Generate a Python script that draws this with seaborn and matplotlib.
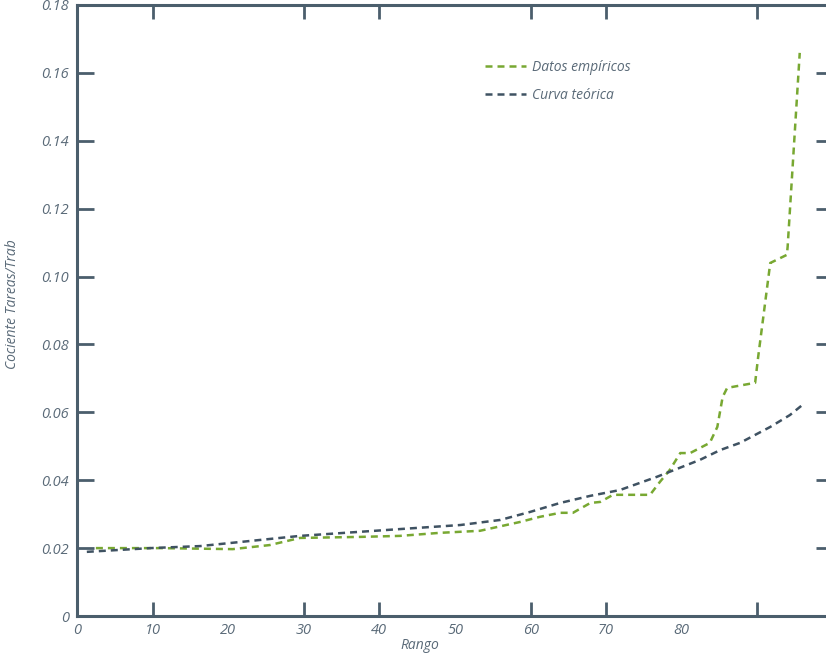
import matplotlib
matplotlib.use("Agg")
import matplotlib.pyplot as plt
import seaborn as sns
import pandas as pd

# ── Data ──────────────────────────────────────────────────────────────
emp_x = [2.5, 11.0, 20.6, 25.5, 29.5, 37.4, 42.7, 48.0, 53.3, 58.6, 61.2,
         63.9, 65.6, 67.9, 69.2, 70.9, 75.8, 77.1, 78.4, 79.8, 81.1, 83.7,
         84.7, 85.4, 86.0, 89.7, 90.1, 91.7, 93.9, 94.0, 95.6]
emp_y = [0.0200, 0.0200, 0.0197, 0.0209, 0.0230, 0.0233, 0.0236, 0.0245,
         0.0251, 0.0277, 0.0292, 0.0304, 0.0304, 0.0333, 0.0336, 0.0357,
         0.0357, 0.0395, 0.0430, 0.0480, 0.0480, 0.0510, 0.0557, 0.0645,
         0.0672, 0.0687, 0.0763, 0.1040, 0.1064, 0.1088, 0.1659]

teo_x = [1.3, 9.7, 16.3, 24.2, 29.5, 37.4, 44.0, 50.7, 56.0, 60.0, 63.9,
         67.9, 71.8, 76.7, 82.4, 85.1, 87.7, 91.7, 94.3, 96.3]
teo_y = [0.0189, 0.0200, 0.0206, 0.0224, 0.0236, 0.0248, 0.0258, 0.0268,
         0.0283, 0.0307, 0.0333, 0.0354, 0.0371, 0.0410, 0.0460, 0.0489,
         0.0510, 0.0557, 0.0592, 0.0628]

y_ticks = [0, 0.02, 0.04, 0.06, 0.08, 0.10, 0.12, 0.14, 0.16, 0.18]
y_labels = ["0", "0.02", "0.04", "0.06", "0.08", "0.10", "0.12", "0.14",
            "0.16", "0.18"]
x_ticks = [0, 10, 20, 30, 40, 50, 60, 70, 80]
x_marks = [10, 30, 40, 60, 70, 90]

# ── Style ─────────────────────────────────────────────────────────────
SPINE = "#4b5e6c"
TEXT = "#5a6a78"
GREEN = "#78a832"
DARK = "#3f5262"

sns.set_style("white")
plt.rcParams["font.family"] = ["Open Sans", "DejaVu Sans"]

fig = plt.figure(figsize=(8.26, 6.54), dpi=100)
ax = fig.add_axes([77 / 826, 38 / 654, 756 / 826, 611 / 654])

df_emp = pd.DataFrame({"x": emp_x, "y": emp_y})
df_teo = pd.DataFrame({"x": teo_x, "y": teo_y})

sns.lineplot(data=df_emp, x="x", y="y", ax=ax, color=GREEN, linewidth=1.8,
             linestyle=(0, (2.8, 2.0)), label="Datos empíricos", sort=False)
sns.lineplot(data=df_teo, x="x", y="y", ax=ax, color=DARK, linewidth=1.8,
             linestyle=(0, (2.8, 2.0)), label="Curva teórica", sort=False)

ax.set_xlim(0, 100)
ax.set_ylim(0, 0.18)

for sp in ax.spines.values():
    sp.set_color(SPINE)
    sp.set_linewidth(2.2)

# y ticks: inward on both sides, labels left only
ax.set_yticks(y_ticks)
ax.set_yticklabels(y_labels)
ax.tick_params(axis="y", which="major", direction="in", length=12, width=2,
               color=SPINE, left=True, right=True, labelcolor=TEXT,
               labelsize=10.5, pad=6)

# x: labels without marks, separate inward marks top and bottom
ax.xaxis.remove_overlapping_locs = False
ax.set_xticks(x_ticks)
ax.set_xticks(x_marks, minor=True)
ax.tick_params(axis="x", which="major", length=0, labelcolor=TEXT,
               labelsize=10.5, pad=5)
ax.tick_params(axis="x", which="minor", direction="in", length=10, width=2,
               color=SPINE, bottom=True, top=True)
for lab in ax.get_xticklabels() + ax.get_yticklabels():
    lab.set_style("italic")

ax.set_xlabel("Rango", fontsize=10, color=TEXT, style="italic")
ax.xaxis.set_label_coords(0.454, -0.036)
ax.set_ylabel("Cociente Tareas/Trab", fontsize=10, color=TEXT, style="italic")
ax.yaxis.set_label_coords(-0.075, 0.51)

leg = ax.legend(loc="upper left", bbox_to_anchor=(0.54, 0.91), frameon=False,
                borderpad=0, borderaxespad=0, handlelength=2.9,
                handletextpad=0.5, labelspacing=0.95, fontsize=10)
for t in leg.get_texts():
    t.set_color(TEXT)
    t.set_style("italic")

fig.savefig("out.png", dpi=100)
